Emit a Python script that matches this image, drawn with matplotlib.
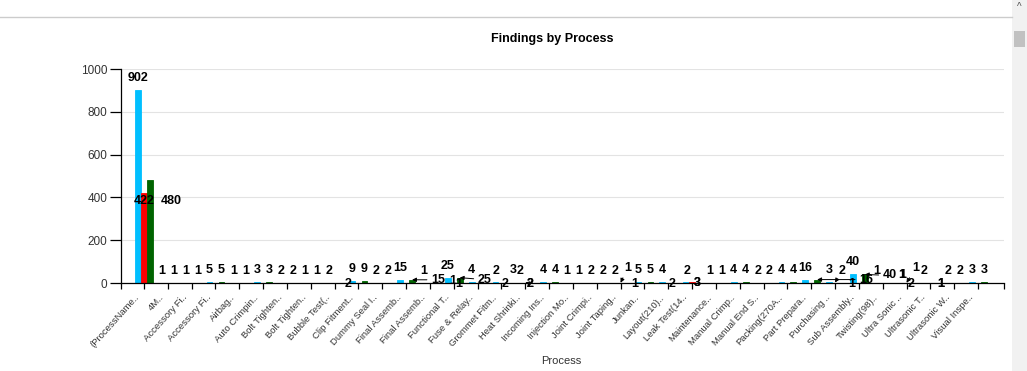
import numpy as np
import matplotlib.pyplot as plt
from matplotlib.patches import Rectangle
from matplotlib.lines import Line2D
from matplotlib.transforms import ScaledTranslation

plt.rcParams['font.family'] = ['Liberation Sans', 'DejaVu Sans']

# ---- data ----
processes = [
    '(ProcessName..', '4M..', 'Accessory Fi..', 'Accessory Fi..', 'Airbag..',
    'Auto Crimpin..', 'Bolt Tighten..', 'Bolt Tighten..', 'Bubble Test(..',
    'Clip Fitment..', 'Dummy Seal I..', 'Final Assemb..', 'Final Assemb..',
    'Functional T..', 'Fuse & Relay..', 'Grommet Fitm..', 'Heat Shrinki..',
    'Incoming Ins..', 'Injection Mo..', 'Joint Crimpi..', 'Joint Taping..',
    'Junkan..', 'Layout(210)..', 'Leak Test(14..', 'Maintenance..',
    'Manual Crimp..', 'Manual End S..', 'Packing(270A..', 'Part Prepara..',
    'Purchasing ..', 'Sub Assembly..', 'Twisting(98)..', 'Ultra Sonic ..',
    'Ultrasonic T..', 'Ultrasonic W..', 'Visual Inspe..',
]
total_findings = [902, 1, 1, 5, 1, 3, 2, 1, 2, 9, 2, 15, 1, 25, 4, 3, 2, 4,
                  1, 2, 2, 5, 4, 3, 1, 4, 2, 4, 16, 3, 40, 1, 2, 2, 2, 3]
open_findings = [422, 0, 0, 0, 0, 0, 0, 0, 2, 0, 0, 0, 0, 0, 2, 1, 2, 0,
                 0, 0, 1, 0, 2, 3, 0, 0, 0, 0, 0, 2, 0, 0, 1, 1, 0, 0]
closed_findings = [480, 1, 1, 5, 1, 3, 2, 1, 0, 9, 2, 15, 1, 25, 2, 2, 0, 4,
                   1, 2, 1, 5, 2, 0, 1, 4, 2, 4, 16, 1, 40, 1, 1, 1, 2, 3]

# label collision shifts as drawn by the web chart: (process, series) -> (dx px, dy px, arrow)
label_nudge = {
    (0, 1): (0, -20, False), (0, 2): (21, -33, False),
    (8, 1): (13, -13, False),
    (11, 2): (26, -12, True), (12, 2): (17, -10, False),
    (13, 2): (25, -14, True),
    (14, 1): (18, 0, False), (14, 2): (21, -13, False),
    (15, 0): (18, 0, False), (15, 1): (-43, -13, False), (15, 2): (13, 0, False),
    (16, 0): (11, -13, False), (16, 1): (5, -13, True),
    (20, 1): (7, 3, True), (20, 2): (8, -13, False),
    (22, 1): (4, -13, False), (22, 2): (13, 0, False),
    (23, 0): (11, -13, False), (23, 1): (5, -13, False),
    (28, 2): (49, -12, True),
    (29, 1): (7, 0, True), (29, 2): (11, -13, False),
    (30, 2): (25, -13, True),
    (31, 2): (13, -4, False),
    (32, 0): (10, -13, False), (32, 1): (9, 3, True), (32, 2): (-10, -4, False),
    (33, 1): (10, -13, False), (33, 2): (4, -13, False),
}

colors = ['#00bfff', '#ff0000', '#006400']
PX = 72 / 100  # points per pixel

fig = plt.figure(figsize=(10.27, 3.71), dpi=100)
ax = fig.add_axes([121 / 1027, 88 / 371, 883 / 1027, 214 / 371])

x = np.arange(len(processes))
w = 0.25
series = [total_findings, open_findings, closed_findings]
for s, (vals, col) in enumerate(zip(series, colors)):
    ax.bar(x + (s - 1) * w, vals, width=w * 0.96, color=col, edgecolor=col,
           linewidth=0.6, zorder=2)

for s, vals in enumerate(series):
    for i, v in enumerate(vals):
        if v == 0:
            continue
        dx, dy, arrow = label_nudge.get((i, s), (0, 0, False))
        props = None
        if arrow:
            props = dict(arrowstyle='-|>', lw=0.7, color='black',
                         mutation_scale=6, shrinkA=1, shrinkB=0)
        ax.annotate(str(v), xy=(i + (s - 1) * w, v),
                    xytext=(dx * PX, (9 + dy) * PX), textcoords='offset points',
                    ha='center', va='baseline', fontsize=9, fontweight='bold',
                    color='black', arrowprops=props, zorder=4)

xl, xr = -0.965, 36.09
ax.set_xlim(xl, xr)
ax.set_ylim(0, 1000)
ax.set_yticks(np.arange(0, 1001, 200))
ax.yaxis.grid(True, color='#e3e3e3', linewidth=0.8, zorder=0)
ax.set_axisbelow(True)
for side in ['top', 'right']:
    ax.spines[side].set_visible(False)
for side in ['left', 'bottom']:
    ax.spines[side].set_color('black')
    ax.spines[side].set_linewidth(0.9)

ax.tick_params(axis='y', length=8, width=0.9, pad=2, labelsize=8.5, labelcolor='#333333')
ax.tick_params(axis='x', length=4.3, width=0.9, pad=5, labelsize=6.8, labelcolor='#333333')
ax.set_xticks(x)
ax.set_xticklabels(processes, rotation=48, ha='right', va='center', rotation_mode='anchor')
for lab in ax.get_xticklabels():
    lab.set_transform(lab.get_transform() + ScaledTranslation(-6 / 100, 0, fig.dpi_scale_trans))
ax.set_xticks([xl, xr], minor=True)
ax.tick_params(axis='x', which='minor', length=4.3, width=0.9)

fig.text(552 / 1027, 1 - 39 / 371, 'Findings by Process', ha='center', va='center',
         fontsize=9, fontweight='bold', color='black')
fig.text(561 / 1027, 1 - 361 / 371, 'Process', ha='center', va='center',
         fontsize=8, color='#333333')

# browser frame bits around the chart
fig.add_artist(Line2D([0, 1012 / 1027], [1 - 17 / 371] * 2, color='#cccccc', lw=1))
fig.add_artist(Rectangle((1012 / 1027, 0), 15 / 1027, 1, color='#f1f1f1', lw=0))
fig.add_artist(Rectangle((1014 / 1027, 1 - 47 / 371), 11 / 1027, 16 / 371, color='#c1c1c1', lw=0))
fig.text(1019 / 1027, 1 - 7 / 371, '^', ha='center', va='center', fontsize=7, color='#505050')

fig.savefig('out.png', dpi=100, facecolor='white')
